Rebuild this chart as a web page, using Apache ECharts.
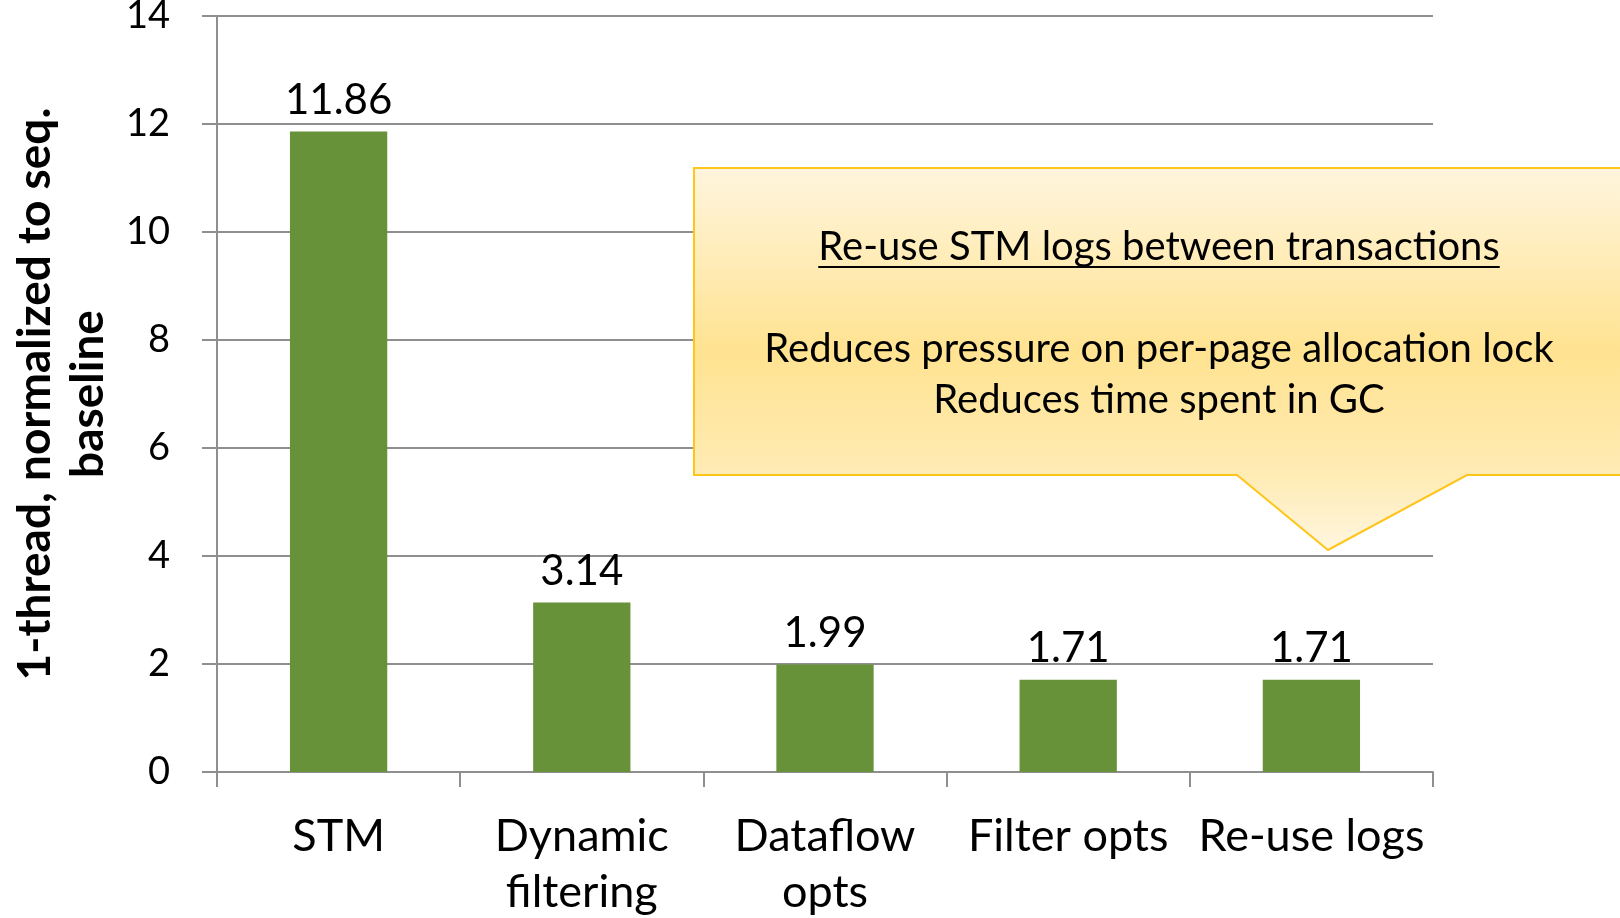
<!DOCTYPE html>
<html>
<head>
<meta charset="utf-8">
<script src="https://cdn.jsdelivr.net/npm/echarts@6/dist/echarts.min.js"></script>
<style>
  html, body { margin: 0; padding: 0; background: #ffffff; }
  #chart { width: 1620px; height: 918px; }
</style>
</head>
<body>
<div id="chart"></div>
<script>
// Single-thread overhead of each optimisation step
const categories = ['STM', 'Dynamic\nfiltering', 'Dataflow\nopts', 'Filter opts', 'Re-use logs'];
const slowdown = [11.86, 3.14, 1.99, 1.71, 1.71];
const yTicks = { min: 0, max: 14, interval: 2 };

const calloutTitle = 'Re-use STM logs between transactions';
const calloutLines = ['Reduces pressure on per-page allocation lock', 'Reduces time spent in GC'];

const FONT = 'Lato, "Open Sans", sans-serif';
const GRID_GRAY = '#8f8f8f';

const chart = echarts.init(document.getElementById('chart'), null, { renderer: 'canvas' });

// width of the callout heading, for its underline
function textWidth(str, size, weight) {
  const ctx = document.createElement('canvas').getContext('2d');
  ctx.font = (weight || 'normal') + ' ' + size + 'px ' + FONT;
  return ctx.measureText(str).width;
}

const calloutFont = 40;
const calloutX = 1159;
const titleW = textWidth(calloutTitle, calloutFont);

chart.setOption({
  animation: false,
  backgroundColor: '#ffffff',
  grid: {
    left: 217, right: 187, top: 16, bottom: 146,
    containLabel: false, outerBoundsMode: 'none'
  },
  xAxis: {
    type: 'category',
    data: categories,
    axisLine: { lineStyle: { color: GRID_GRAY, width: 2 } },
    axisTick: { show: true, length: 15, lineStyle: { color: GRID_GRAY, width: 2 } },
    axisLabel: {
      color: '#000', fontFamily: FONT, fontSize: 45, lineHeight: 56, margin: 36,
      interval: 0
    }
  },
  yAxis: {
    type: 'value',
    min: yTicks.min, max: yTicks.max, interval: yTicks.interval,
    name: '1-thread, normalized to seq.\nbaseline',
    nameLocation: 'middle',
    nameRotate: 90,
    nameGap: 100,
    nameTextStyle: {
      color: '#000', fontFamily: FONT, fontWeight: 'bold', fontSize: 46, lineHeight: 53
    },
    axisLine: { show: true, lineStyle: { color: GRID_GRAY, width: 2 } },
    axisTick: { show: true, inside: false, length: 15, lineStyle: { color: GRID_GRAY, width: 2 } },
    axisLabel: { color: '#000', fontFamily: FONT, fontSize: 38, margin: 47 },
    splitLine: { show: true, lineStyle: { color: GRID_GRAY, width: 2 } }
  },
  series: [{
    type: 'bar',
    data: slowdown,
    barWidth: '40%',
    itemStyle: { color: '#679239' },
    label: {
      show: true, position: 'top', distance: 10,
      color: '#000', fontFamily: FONT, fontSize: 42,
      formatter: p => p.value.toFixed(2)
    },
    z: 2
  }],
  graphic: [
    {
      type: 'polygon',
      z: 10,
      shape: {
        points: [[694, 168], [1630, 168], [1630, 475], [1467, 475], [1328, 550], [1237, 475], [694, 475]]
      },
      style: {
        fill: new echarts.graphic.LinearGradient(0, 0, 0, 1, [
          { offset: 0, color: '#fff5de' },
          { offset: 0.48, color: '#ffe391' },
          { offset: 0.8, color: '#ffebb4' },
          { offset: 1, color: '#fff6e0' }
        ]),
        stroke: '#ffc51a',
        lineWidth: 2
      }
    },
    {
      type: 'text', z: 11,
      style: {
        x: calloutX, y: 247, text: calloutTitle, fill: '#000',
        font: calloutFont + 'px ' + FONT, textAlign: 'center', textVerticalAlign: 'middle'
      }
    },
    {
      type: 'line', z: 11,
      shape: { x1: calloutX - titleW / 2, y1: 267, x2: calloutX + titleW / 2, y2: 267 },
      style: { stroke: '#000', lineWidth: 2 }
    },
    {
      type: 'text', z: 11,
      style: {
        x: calloutX, y: 349, text: calloutLines[0], fill: '#000',
        font: calloutFont + 'px ' + FONT, textAlign: 'center', textVerticalAlign: 'middle'
      }
    },
    {
      type: 'text', z: 11,
      style: {
        x: calloutX, y: 400, text: calloutLines[1], fill: '#000',
        font: calloutFont + 'px ' + FONT, textAlign: 'center', textVerticalAlign: 'middle'
      }
    }
  ]
});
</script>
</body>
</html>
